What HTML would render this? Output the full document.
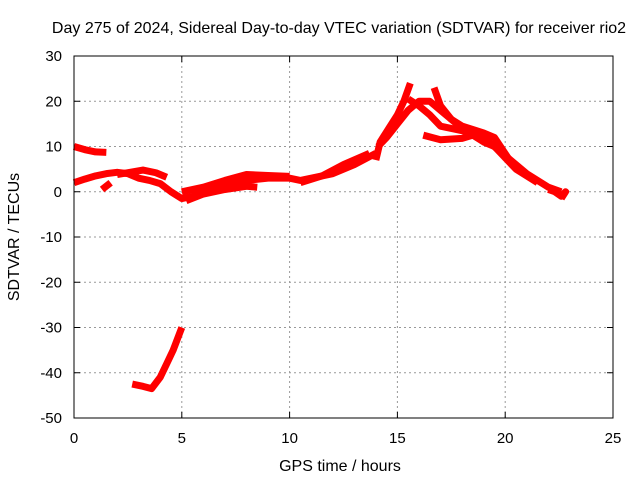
<!DOCTYPE html>
<html><head><meta charset="utf-8"><style>
body{margin:0;background:#fff;width:640px;height:480px;overflow:hidden}
svg{font-family:"Liberation Sans",sans-serif}
</style></head><body>
<svg id="c" width="640" height="480">
<text x="339" y="33" font-size="16" text-anchor="middle">Day 275 of 2024, Sidereal Day-to-day VTEC variation (SDTVAR) for receiver rio2</text>
<text x="340" y="471" font-size="16" text-anchor="middle">GPS time / hours</text>
<text transform="translate(19,237) rotate(-90)" font-size="16" text-anchor="middle">SDTVAR / TECUs</text>
<g id="grid"></g><g id="marks"></g>
<rect x="74" y="56" width="539" height="362" fill="none" stroke="#000"/>
</svg>
<script>
const xTicks=[0,5,10,15,20,25];
const yTicks=[30,20,10,0,-10,-20,-30,-40,-50];
const s1=[[0,10],[0.5,9.3],[1,8.8],[1.5,8.7]];
const s2=[[0,2],[0.5,2.8],[1,3.5],[1.5,4],[2,4.3],[2.5,4],[3,3],[3.5,2.5],[4,1.8],[4.5,0],[5,-1.5],[5.5,-1],[6,0],[7,1.5],[8,2.5],[9,3],[10,3],[10.5,2.5],[11,3],[12,4],[13,6],[14,8.5]];
const s3=[[2,3.8],[2.5,4.2],[3.2,4.8],[3.8,4.2],[4.3,3.2]];
const s4=[[1.3,0.5],[1.7,2]];
const s5=[[5,0],[6,1],[7,2.5],[8,3.8],[9,3.6],[10,3.4]];
const s6=[[5.2,-2],[6,-0.5],[7,0.5],[8,1.2],[8.5,1]];
const s7=[[10.5,2],[11.5,3.5],[12.5,6],[13.7,8.5]];
const s8=[[14,7],[14.2,11],[14.6,14],[15,17],[15.3,20],[15.6,24]];
const s9=[[14.1,10],[14.5,12],[15,15],[15.5,18],[16,20],[16.5,20],[17,18],[17.5,16],[18,14],[19,12],[20,8],[21,4],[22,1],[22.6,0]];
const s10=[[15.5,20.5],[16,19],[16.5,17],[17,14.5],[17.5,14],[18.5,13],[19.5,10],[20.5,5],[21.5,2]];
const s11=[[16.7,23],[17,19],[17.5,16],[18,14.5],[19,13],[19.5,12],[20.2,7]];
const s12=[[16.2,12.5],[17,11.5],[18,11.8],[18.5,12.5],[19,11],[19.5,10]];
const s13=[[2.7,-42.5],[3.2,-43],[3.6,-43.5],[4,-41],[4.3,-38],[4.6,-35],[5,-30]];
const s14=[[22,0.5],[22.3,0],[22.6,-1],[22.8,0],[22.6,-1.5]];
const series=[s1,s2,s3,s4,s5,s6,s7,s8,s9,s10,s11,s12,s13,s14];
const X=v=>74+v*539/25, Y=v=>56+(30-v)*362/80;
const NS="http://www.w3.org/2000/svg";
const grid=document.getElementById('grid'), marks=document.getElementById('marks');
function mk(tag,a,p){const e=document.createElementNS(NS,tag);for(const k in a)e.setAttribute(k,a[k]);p.appendChild(e);return e;}
xTicks.forEach(t=>{
 if(t>0&&t<25){const l=mk('line',{x1:X(t),x2:X(t),y1:56,y2:418,stroke:'#999','stroke-dasharray':'2,3'},grid);
 
 }
 mk('line',{x1:X(t),x2:X(t),y1:418,y2:412,stroke:'#000'},grid);
 mk('line',{x1:X(t),x2:X(t),y1:56,y2:62,stroke:'#000'},grid);
 const tx=mk('text',{x:X(t),y:443,'font-size':15,'text-anchor':'middle'},grid);tx.textContent=t;
 
 
});
yTicks.forEach(t=>{
 if(t<30&&t>-50){const l=mk('line',{x1:74,x2:613,y1:Y(t),y2:Y(t),stroke:'#999','stroke-dasharray':'2,3'},grid);
 
 }
 mk('line',{x1:74,x2:80,y1:Y(t),y2:Y(t),stroke:'#000'},grid);
 mk('line',{x1:613,x2:607,y1:Y(t),y2:Y(t),stroke:'#000'},grid);
 const tx=mk('text',{x:62,y:Y(t)+5,'font-size':15,'text-anchor':'end'},grid);tx.textContent=t;
 
 
});
series.forEach((s,i)=>{
 const p=mk('polyline',{points:s.map(d=>X(d[0])+','+Y(d[1])).join(' '),fill:'none',stroke:'#f00','stroke-width':7,'stroke-linejoin':'round','stroke-linecap':'butt'},marks);
 
 
});
</script>
</body></html>
